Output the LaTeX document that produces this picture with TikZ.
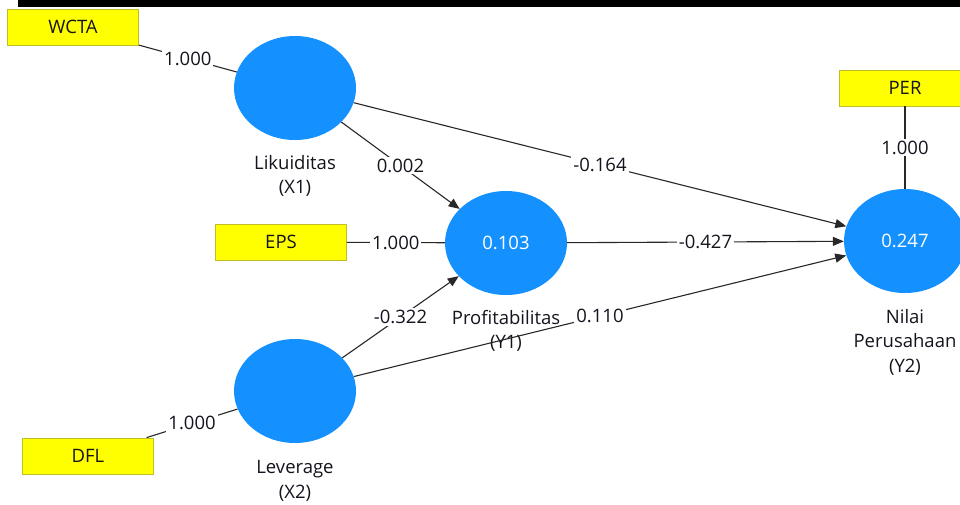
\documentclass[tikz,border=0pt]{standalone}
\usepackage{fontspec}
\setmainfont{Open Sans}
\usetikzlibrary{arrows.meta,shapes.geometric}
\definecolor{lvblue}{RGB}{20,145,255}
\definecolor{indyellow}{RGB}{255,255,0}
\definecolor{indborder}{RGB}{190,190,40}
\definecolor{edgegray}{RGB}{40,40,40}
\definecolor{txt}{RGB}{20,20,30}
\tikzset{
  latent/.style={ellipse, fill=lvblue, minimum width=122pt, minimum height=104pt,
    inner sep=0pt, text=white, font=\fontsize{18.5}{22}\selectfont},
  indicator/.style={rectangle, fill=indyellow, draw=indborder, line width=0.8pt,
    minimum width=131pt, minimum height=36pt, inner sep=0pt, text=txt,
    font=\fontsize{18.5}{22}\selectfont},
  caption/.style={align=center, text=txt, font=\fontsize{18.5}{24.5}\selectfont},
  weight/.style={fill=white, inner sep=2pt, text=txt, font=\fontsize{18.5}{22}\selectfont},
  loading/.style={draw=edgegray, line width=1.1pt},
  path/.style={draw=edgegray, line width=1.1pt, -{Triangle[length=11pt,width=9pt]}},
}
\begin{document}
\begin{tikzpicture}[x=1pt,y=-1pt]
  \useasboundingbox (0,0) rectangle (960,504);
  \fill[white] (0,0) rectangle (960,504);
  % top frame bar
  \fill[black] (18,0) rectangle (960,7);

  % latent variables
  \node[latent] (x1) at (295,88) {};
  \node[latent] (y1) at (506,243) {0.103};
  \node[latent] (x2) at (295,391) {};
  \node[latent] (y2) at (905,241) {0.247};

  % indicators
  \node[indicator] (wcta) at (73,27) {WCTA};
  \node[indicator] (eps) at (281,242) {EPS};
  \node[indicator] (dfl) at (88,456) {DFL};
  \node[indicator] (per) at (905,88) {PER};

  % construct captions
  \node[caption] (capx1) at (295,176) {Likuiditas\\(X1)};
  \node[caption] (capy1) at (506,331) {Profitabilitas\\(Y1)};
  \node[caption] (capx2) at (295,481) {Leverage\\(X2)};
  \node[caption] (capy2) at (905,342) {Nilai\\Perusahaan\\(Y2)};

  % outer loadings
  \draw[loading] (wcta) -- node[weight] (lw) {1.000} (x1);
  \draw[loading] (eps) -- node[weight] (le) {1.000} (y1);
  \draw[loading] (dfl) -- node[weight] (ld) {1.000} (x2);
  \draw[loading] (per) -- node[weight] (lp) {1.000} (y2);

  % path coefficients
  \draw[path] (x1) -- node[weight] (p1) {0.002} (y1);
  \draw[path] (x1) -- node[weight] (p2) {-0.164} (y2);
  \draw[path] (y1) -- node[weight] (p3) {-0.427} (y2);
  \draw[path] (x2) -- node[weight] (p4) {-0.322} (y1);
  \draw[path] (x2) -- node[weight] (p5) {0.110} (y2);
\end{tikzpicture}
\end{document}
